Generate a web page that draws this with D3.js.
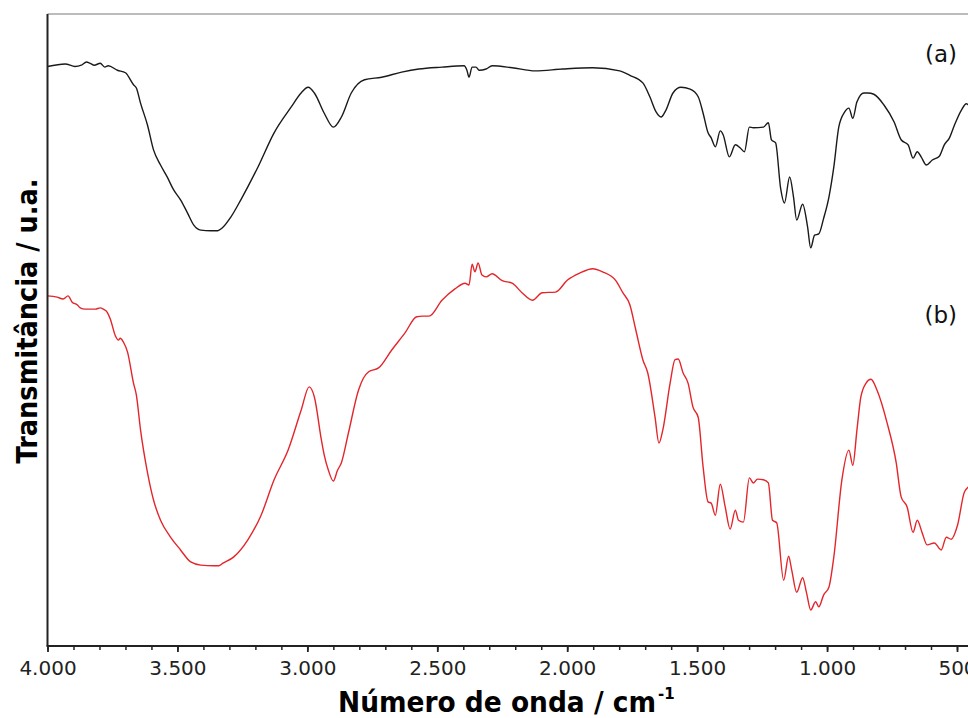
<!DOCTYPE html>
<html>
<head>
  <meta charset="utf-8">
  <title>Espectro FTIR</title>
  <script src="https://d3js.org/d3.v7.min.js"></script>
  <style>
    body { margin: 0; background: white; overflow: hidden; }
    svg { display: block; }
  </style>
</head>
<body>
<svg id="chart" width="968" height="718"></svg>
<script>
  // wavenumbers (cm-1) and transmittance (u.a.)
  const waveA = [4000,3932,3894,3870,3850,3836,3820,3797,3780,3766,
                 3731,3700,3669,3658,
                 3642,3615,3592,3565,3538,3515,3488,3461,3437,3410,
                 3372,3345,3329,3294,3256,3190,3128,3062,3024,2997,
                 2973,2935,2900,2869,2831,2780,2714,2637,2571,2482,
                 2397,2386,2378,2366,2351,2339,2312,2289,2212,2123,
                 2018,1902,1798,1759,1709,1682,1658,1639,1620,1593,
                 1562,1527,1496,1477,1458,1446,1430,1411,1400,1376,
                 1353,1334,1318,1299,1284,1245,1226,1214,1198,1179,
                 1164,1144,1129,1117,1094,1075,1063,1048,1032,1013,
                 993,974,955,932,916,901,885,858,843,820,
                 781,742,715,688,669,653,638,618,595,568,
                 549,529,510,483,464,441];
  const transA = [91.7,92.1,91.7,91.9,92.4,92.2,91.9,92.2,91.6,91.8,
                  91.1,90.7,88.8,88.3,
                  85.9,82.4,78.5,76.1,74.1,72.2,70.6,68.5,66.6,65.8,
                  65.7,65.7,66.1,67.9,70.6,75.8,81.2,85.3,87.5,88.4,
                  87.5,84.3,82.1,83.7,87.5,89.6,90.0,90.8,91.3,91.6,
                  91.8,91.1,90.0,91.6,91.6,91.1,91.3,91.8,91.5,91.0,
                  91.3,91.5,91.0,90.3,89.1,86.9,84.5,83.7,84.8,87.5,
                  88.4,88.1,86.9,84.3,81.2,80.4,79.0,81.5,80.9,77.4,
                  79.3,78.8,78.2,82.1,82.0,82.1,82.8,80.1,79.6,72.5,
                  70.1,74.2,71.0,67.4,69.9,66.3,63.0,65.0,65.2,67.7,
                  71.0,75.8,82.1,84.5,85.1,83.5,86.1,87.5,87.5,87.3,
                  85.6,82.9,80.1,79.3,77.2,78.2,77.4,76.1,76.9,77.5,
                  79.3,80.4,82.4,84.8,85.8,84.8];

  const waveB = [4000,3963,3940,3921,3905,3886,3874,3855,3816,3797,
                 3785,3770,3758,3739,3727,3720,3708,3692,3669,3658,
                 3642,3615,3592,3565,3526,3488,3449,3410,3360,3341,
                 3325,3283,3229,3178,3128,3074,3024,2993,2973,2946,
                 2935,2919,2900,2884,2869,2842,2803,2784,2764,2726,
                 2676,2625,2579,2556,2532,2482,2432,2393,2378,2366,
                 2355,2343,2328,2312,2289,2250,2212,2174,2134,2096,
                 2045,1999,1952,1902,1864,1813,1786,1759,1736,1709,
                 1690,1662,1647,1632,1604,1585,1573,1554,1535,1516,
                 1496,1477,1458,1446,1430,1411,1392,1373,1353,1341,
                 1322,1299,1284,1268,1245,1226,1210,1194,1167,1148,
                 1136,1117,1094,1079,1063,1044,1032,1013,993,974,
                 943,916,901,885,870,850,831,808,769,734,
                 715,692,669,653,634,615,587,561,541,522,
                 498,471,441];
  const transB = [55.4,55.2,54.9,55.4,54.4,54.0,53.5,53.3,53.3,53.5,
                  53.3,52.8,51.7,49.1,48.4,48.7,48.1,46.5,41.6,39.7,
                  34.2,27.4,23.1,19.9,17.2,15.2,13.3,12.8,12.7,12.7,
                  13.1,14.1,16.8,20.7,26.3,31.0,37.3,41.0,39.4,32.6,
                  30.2,27.8,26.1,27.8,29.0,33.7,40.5,42.4,43.4,44.0,
                  46.8,49.5,52.1,52.2,52.2,54.7,56.5,57.4,57.1,60.4,
                  59.2,60.6,58.7,58.4,58.9,57.8,57.4,55.9,54.7,55.9,
                  56.0,57.9,59.0,59.7,59.2,57.8,55.9,54.0,50.0,45.3,
                  43.2,36.2,32.1,34.2,41.6,45.3,45.4,43.2,41.6,37.8,
                  36.2,28.3,22.8,22.6,20.7,25.6,22.0,18.5,21.5,19.9,
                  19.6,26.6,25.8,26.4,26.3,25.8,19.9,19.5,10.4,14.2,
                  12.0,8.5,10.8,8.4,5.7,7.0,6.2,8.1,9.3,14.1,
                  26.3,31.0,28.6,34.2,39.4,41.6,42.2,40.5,35.3,29.0,
                  23.6,22.0,18.0,19.9,17.9,16.0,16.3,15.2,17.2,16.9,
                  19.1,24.4,25.6];

  const majorTicks = [4000, 3500, 3000, 2500, 2000, 1500, 1000, 500];
  const minorTicks = d3.range(4000, 400, -100);
  const seriesLabels = ["(a)", "(b)"];

  const svg = d3.select("#chart");
  const plotLeft = 47.5, plotTop = 14, plotBottom = 646;

  // reversed wavenumber axis, right side runs past the window
  const x = d3.scaleLinear().domain([4000, 500]).range([plotLeft, 957]);
  const y = d3.scaleLinear().domain([0, 100]).range([plotBottom, plotTop]);

  // pt-BR number format: 4.000
  const ptBR = d3.formatLocale({decimal: ",", thousands: ".", grouping: [3], currency: ["R$", ""]});
  const fmt = ptBR.format(",d");

  svg.append("clipPath").attr("id", "plot-clip")
    .append("rect")
    .attr("x", plotLeft).attr("y", plotTop)
    .attr("width", 968 - plotLeft).attr("height", plotBottom - plotTop);

  const line = d3.line()
    .x(d => x(d[0]))
    .y(d => y(d[1]))
    .curve(d3.curveMonotoneX);

  const plot = svg.append("g").attr("clip-path", "url(#plot-clip)");

  plot.append("path")
    .datum(d3.zip(waveA, transA))
    .attr("d", line)
    .attr("fill", "none")
    .attr("stroke", "#1a1a1a")
    .attr("stroke-width", 1.4)
    .attr("stroke-linejoin", "round");

  plot.append("path")
    .datum(d3.zip(waveB, transB))
    .attr("d", line)
    .attr("fill", "none")
    .attr("stroke", "#e3262b")
    .attr("stroke-width", 1.4)
    .attr("stroke-linejoin", "round");

  // top frame line (grey)
  svg.append("line")
    .attr("x1", plotLeft).attr("x2", 968)
    .attr("y1", plotTop).attr("y2", plotTop)
    .attr("stroke", "#7a7a7a")
    .attr("stroke-width", 1.2);

  // left axis line, no ticks
  svg.append("line")
    .attr("x1", plotLeft).attr("x2", plotLeft)
    .attr("y1", plotTop).attr("y2", plotBottom)
    .attr("stroke", "#222")
    .attr("stroke-width", 2);

  // minor ticks
  svg.append("g")
    .attr("transform", `translate(0,${plotBottom})`)
    .call(d3.axisBottom(x).tickValues(minorTicks).tickSize(4).tickFormat(""))
    .call(g => g.select(".domain").remove())
    .call(g => g.selectAll("line").attr("stroke", "#222").attr("stroke-width", 1.5));

  // major ticks + labels
  const xAxis = svg.append("g")
    .attr("transform", `translate(0,${plotBottom})`)
    .call(d3.axisBottom(x).tickValues(majorTicks).tickSize(6).tickPadding(9).tickFormat(fmt));
  xAxis.select(".domain").remove();
  xAxis.selectAll("line").attr("stroke", "#222").attr("stroke-width", 1.8);
  xAxis.selectAll("text")
    .attr("fill", "#222")
    .style("font-family", "DejaVu Sans")
    .style("font-size", "20px");

  svg.append("line")
    .attr("x1", plotLeft - 1).attr("x2", 968)
    .attr("y1", plotBottom).attr("y2", plotBottom)
    .attr("stroke", "#222")
    .attr("stroke-width", 2);

  // axis titles (one text element, superscript as a tspan)
  const xTitle = svg.append("text")
    .attr("x", 338).attr("y", 712)
    .style("font-family", "DejaVu Sans")
    .style("font-weight", "bold")
    .style("font-size", "29px");
  xTitle.append("tspan")
    .attr("textLength", 318)
    .attr("lengthAdjust", "spacingAndGlyphs")
    .text("Número de onda / cm");
  xTitle.append("tspan")
    .attr("dx", 2).attr("dy", -13)
    .style("font-size", "15px")
    .text("-1");

  svg.append("text")
    .attr("transform", "rotate(-90)")
    .attr("x", -321).attr("y", 37)
    .attr("text-anchor", "middle")
    .attr("textLength", 285)
    .attr("lengthAdjust", "spacingAndGlyphs")
    .style("font-family", "DejaVu Sans")
    .style("font-weight", "bold")
    .style("font-size", "29px")
    .text("Transmitância / u.a.");

  // series labels
  svg.selectAll(".series-label")
    .data(seriesLabels)
    .enter()
    .append("text")
    .attr("class", "series-label")
    .attr("x", 957)
    .attr("y", (d, i) => i === 0 ? 62 : 323)
    .attr("text-anchor", "end")
    .attr("fill", "#111")
    .style("font-family", "DejaVu Sans")
    .style("font-size", "23px")
    .text(d => d);
</script>
</body>
</html>
